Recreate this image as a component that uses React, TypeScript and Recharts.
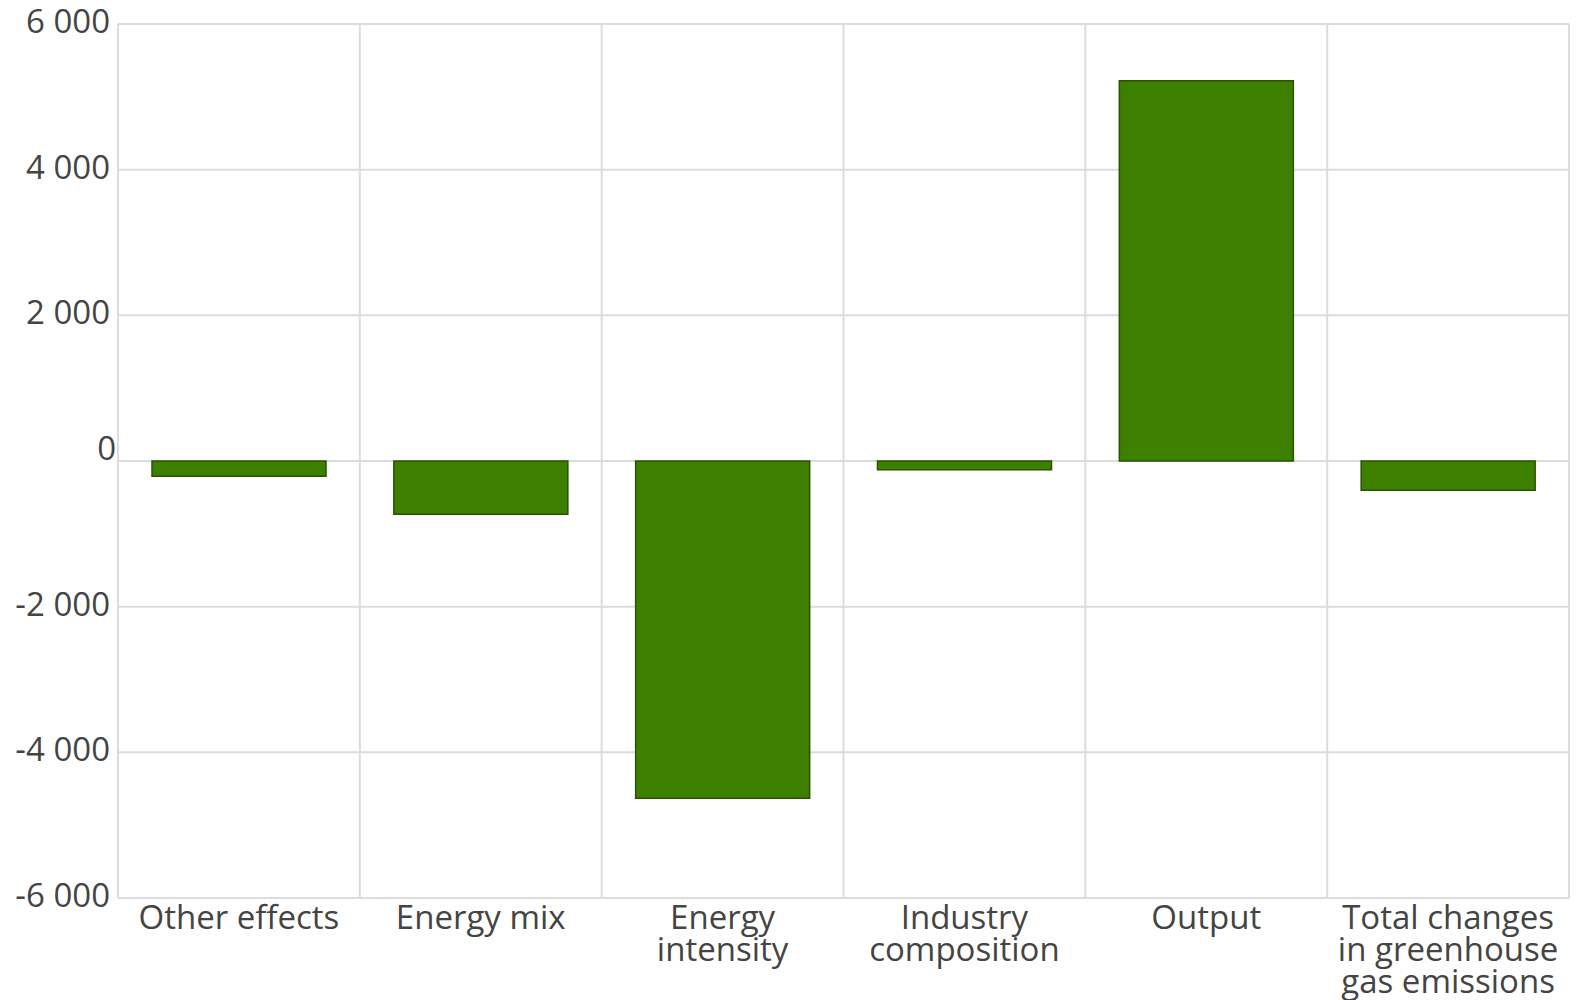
import React from "react"
import { BarChart, Bar, XAxis, YAxis, CartesianGrid } from "recharts"

const categories: string[] = [
  "Other effects",
  "Energy mix",
  "Energy intensity",
  "Industry composition",
  "Output",
  "Total changes in greenhouse gas emissions",
]

// label lines, as wrapped in the picture
const labelLines: string[][] = [
  ["Other effects"],
  ["Energy mix"],
  ["Energy", "intensity"],
  ["Industry", "composition"],
  ["Output"],
  ["Total changes", "in greenhouse", "gas emissions"],
]

const values: number[] = [-210, -730, -4630, -120, 5220, -400]

const yTicks: number[] = [-6000, -4000, -2000, 0, 2000, 4000, 6000]

const data = categories.map((c, i) => ({ name: c, value: values[i] }))

const FONT = "'Open Sans', sans-serif"
const TEXT = "#444"
const FS = 33

const fmt = (v: number) => {
  const s = Math.abs(v).toString().replace(/\B(?=(\d{3})+(?!\d))/g, " ")
  return (v < 0 ? "-" : "") + s
}

type TickProps = {
  x?: number
  y?: number
  payload?: { value: any }
  index?: number
}

const XTick: React.FC<TickProps> = ({ x, y, payload, index }) => {
  const i = index ?? categories.indexOf(payload?.value)
  const lines = labelLines[i] || [String(payload?.value)]
  return (
    <g transform={`translate(${x},${y})`}>
      <text x={0} y={0} textAnchor="middle" fill={TEXT} fontSize={FS} fontFamily={FONT}>
        {lines.map((l, k) => (
          <tspan key={k} x={0} dy={k === 0 ? 31 : 32}>
            {l}
          </tspan>
        ))}
      </text>
    </g>
  )
}

const YTick: React.FC<TickProps> = ({ y, payload }) => {
  const v = payload?.value as number
  const zero = v === 0
  return (
    <text
      x={zero ? 116 : 110}
      y={(y ?? 0) + (zero ? -1 : 9)}
      textAnchor="end"
      fill={TEXT}
      fontSize={FS}
      fontFamily={FONT}
    >
      {zero ? "0" : fmt(v)}
    </text>
  )
}

export default function App() {
  return (
    <div style={{ position: "absolute", left: 0, top: 0, width: 1581, height: 1000, background: "#fff" }}>
      <BarChart
        width={1581}
        height={1000}
        data={data}
        margin={{ top: 24, right: 12, left: 0, bottom: 0 }}
      >
        <CartesianGrid
          stroke="#dcdcdc"
          strokeWidth={2}
          verticalCoordinatesGenerator={({ offset }: any) =>
            categories
              .map((_, i) => offset.left + (i * offset.width) / categories.length)
              .concat([offset.left + offset.width])
          }
        />
        <XAxis
          dataKey="name"
          axisLine={false}
          tickLine={false}
          tickSize={0}
          tickMargin={0}
          height={102}
          interval={0}
          tick={<XTick />}
        />
        <YAxis
          domain={[-6000, 6000]}
          ticks={yTicks}
          width={118}
          axisLine={false}
          tickLine={false}
          tick={<YTick />}
        />
        <Bar
          dataKey="value"
          fill="#3d8000"
          stroke="#2a5200"
          strokeWidth={1.5}
          barSize={174}
          isAnimationActive={false}
        />
      </BarChart>
    </div>
  )
}
